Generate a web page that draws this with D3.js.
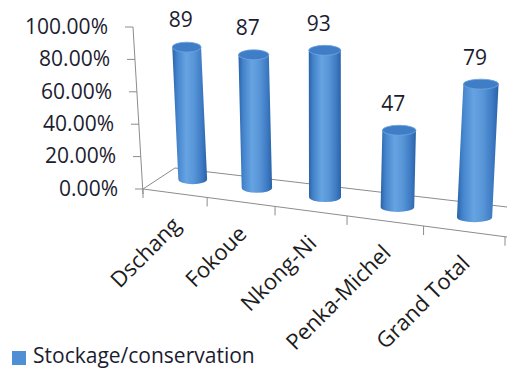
<!DOCTYPE html>
<html>
<head>
<meta charset="utf-8">
<script src="https://cdn.jsdelivr.net/npm/d3@7"></script>
<style>
  html, body { margin: 0; padding: 0; background: #fff; }
  svg text { font-family: "Open Sans", "Noto Sans", sans-serif; }
</style>
</head>
<body>
<div id="chart"></div>
<script>
// data
const categories = ["Dschang", "Fokoue", "Nkong-Ni", "Penka-Michel", "Grand Total"];
const values = [89, 87, 93, 47, 79];
const yTicks = [0, 20, 40, 60, 80, 100];
const seriesName = "Stockage/conservation";

const width = 507, height = 369;

const svg = d3.select("#chart").append("svg")
    .attr("width", width)
    .attr("height", height);

// gradient for the cylinders
const defs = svg.append("defs");
const grad = defs.append("linearGradient")
    .attr("id", "cyl")
    .attr("x1", "0%").attr("x2", "100%").attr("y1", "0%").attr("y2", "0%");
[["0%", "#2a62a6"], ["14%", "#4484cc"], ["40%", "#66a3e2"], ["62%", "#5896d8"], ["86%", "#3c79c2"], ["100%", "#2a62a6"]]
    .forEach(s => grad.append("stop").attr("offset", s[0]).attr("stop-color", s[1]));

// fake 3d: category position along the floor (0..1) with a bit of perspective
const band = d3.scaleBand().domain(categories).range([0, 1]);
const persp = d3.scaleLinear().domain([0, 1]).range([143, 505]);
function px(u) { return persp(u / (1 + 0.161 * (1 - u))); }

const frontY = d3.scaleLinear().domain([143, 507]).range([189, 237]);
const y = d3.scaleLinear().domain([0, 100]).range([189, 27]);
const yLean = d3.scaleLinear().domain([0, 100]).range([143, 133]);
const depthDx = d3.scaleLinear().domain([0, 1]).range([19, 10]);
const barW = d3.scaleLinear().domain([0, 1]).range([28, 36]);
const hFactor = d3.scaleLinear().domain([191, 474]).range([0.915, 1.04]);

const axisColor = "#8c8c8c";

// floor: left edge and back edge
const floor = svg.append("g").attr("stroke", axisColor).attr("fill", "none");
floor.append("line").attr("x1", 143).attr("y1", 189).attr("x2", 175).attr("y2", 168);
floor.append("line").attr("x1", 175).attr("y1", 168).attr("x2", 507).attr("y2", 207);

// front x axis with ticks at band edges
floor.append("line")
    .attr("x1", px(0)).attr("y1", frontY(px(0)))
    .attr("x2", 507).attr("y2", frontY(507));
const edges = d3.range(0, categories.length + 1).map(i => i / categories.length);
floor.selectAll(".xt").data(edges).join("line")
    .attr("class", "xt")
    .attr("x1", d => px(d)).attr("x2", d => px(d))
    .attr("y1", d => frontY(px(d))).attr("y2", d => frontY(px(d)) + 9);

// y axis, leaning a little like the picture
const yAxis = svg.append("g")
    .call(d3.axisLeft(y).tickValues(yTicks).tickSize(8).tickPadding(17)
        .tickFormat(d => d.toFixed(2) + "%"));
yAxis.select(".domain").remove();
yAxis.selectAll(".tick")
    .attr("transform", d => "translate(" + yLean(d) + "," + y(d) + ")");
yAxis.selectAll(".tick line").attr("stroke", axisColor);
yAxis.selectAll(".tick text")
    .style("font-size", "21px")
    .attr("fill", "#1c1c30");
svg.append("line")
    .attr("x1", yLean(0)).attr("y1", y(0) + 5)
    .attr("x2", yLean(100)).attr("y2", y(100))
    .attr("stroke", axisColor);

// bars as cylinders
const bars = categories.map((c, i) => {
    const u = band(c) + band.bandwidth() / 2;
    const fx = px(u);
    const bx = fx + depthDx(u);
    const by = frontY(fx) - 14;
    const h = (y(0) - y(values[i])) * hFactor(bx);
    const tx = bx + (bx - 330) * h / 3000;
    return { c, v: values[i], u, fx, bx, by, tx, ty: by - h, rx: barW(u) / 2, ry: 5 };
});

const g = svg.append("g");
g.selectAll(".body").data(bars).join("path")
    .attr("class", "body")
    .attr("fill", "url(#cyl)")
    .attr("d", d =>
        "M" + (d.tx - d.rx) + "," + d.ty +
        "L" + (d.bx - d.rx) + "," + d.by +
        "A" + d.rx + "," + d.ry + " 0 0 0 " + (d.bx + d.rx) + "," + d.by +
        "L" + (d.tx + d.rx) + "," + d.ty + "Z");
g.selectAll(".cap").data(bars).join("ellipse")
    .attr("class", "cap")
    .attr("cx", d => d.tx).attr("cy", d => d.ty)
    .attr("rx", d => d.rx).attr("ry", d => d.ry)
    .attr("fill", "#3f7dc6")
    .attr("stroke", "#6ea6e0")
    .attr("stroke-width", 0.8);

// value labels
svg.selectAll(".val").data(bars).join("text")
    .attr("class", "val")
    .attr("x", d => d.tx - 6)
    .attr("y", d => d.ty - 27)
    .attr("dy", "0.35em")
    .attr("text-anchor", "middle")
    .style("font-size", "21px")
    .attr("fill", "#1c1c30")
    .text(d => d.v);

// category labels, rotated
svg.selectAll(".cat").data(bars).join("text")
    .attr("class", "cat")
    .attr("transform", d => "translate(" + (d.fx + 2) + "," + (frontY(d.fx) + 28) + ") rotate(-45)")
    .attr("text-anchor", "end")
    .attr("dy", "0.35em")
    .style("font-size", "22px")
    .attr("fill", "#1c1c1c")
    .text(d => d.c);

// legend
const leg = svg.append("g");
leg.append("rect")
    .attr("x", 12).attr("y", 351).attr("width", 14).attr("height", 14)
    .attr("fill", "#4f8fd6");
leg.append("text")
    .attr("x", 33).attr("y", 363)
    .style("font-size", "21px")
    .attr("fill", "#1c1c30")
    .text(seriesName);
</script>
</body>
</html>
